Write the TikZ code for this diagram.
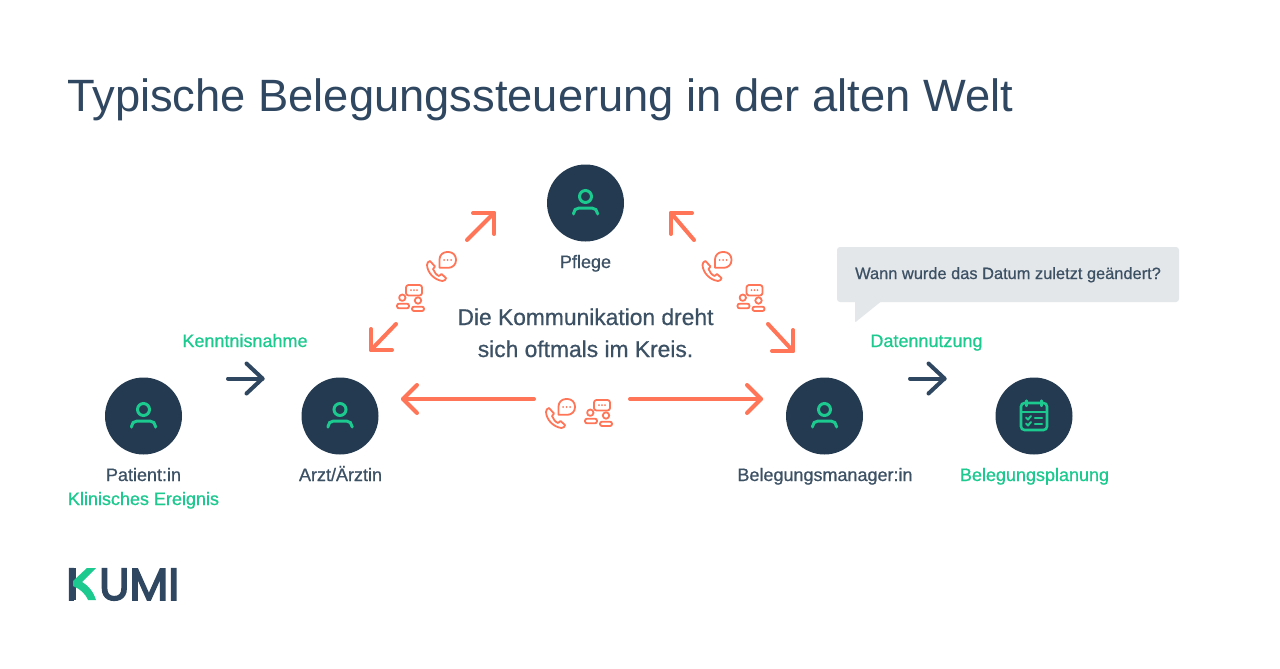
\documentclass[tikz,border=0pt]{standalone}
\usepackage{fontspec}
\setmainfont[FakeBold=0.7]{Liberation Sans}
\newfontfamily\titlefont{Liberation Sans}
\newfontfamily\logofont[FakeBold=3.5]{Poppins}
\usetikzlibrary{arrows.meta}
\definecolor{navy}{HTML}{233A50}
\definecolor{titlecol}{HTML}{2F4760}
\definecolor{bodycol}{HTML}{3D5165}
\definecolor{mint}{HTML}{1CC98F}
\definecolor{coral}{HTML}{FF7557}
\definecolor{calloutfill}{HTML}{E4E7EA}
\tikzset{
  roundnode/.style={circle,fill=navy,draw=none,minimum size=77pt,inner sep=0pt},
  lbl/.style={font=\fontsize{18}{20}\selectfont,text=bodycol,inner sep=0pt,anchor=base},
  grn/.style={font=\fontsize{18}{20}\selectfont,text=mint,inner sep=0pt,anchor=base},
  coralstroke/.style={draw=coral,line width=4pt,line cap=round,line join=round},
  navystroke/.style={draw=titlecol,line width=4pt,line cap=round,line join=round},
  iconline/.style={draw=coral,line width=1.8pt,line join=round,line cap=round},
  personpic/.pic={
    \draw[mint,line width=3pt] (0,-6.5) circle (6pt);
    \draw[mint,line width=3pt,line cap=round,rounded corners=5.5pt] (-12,11) -- (-12,5) -- (12,5) -- (12,11);
  },
  phonepic/.pic={
    \draw[iconline] (-6.5,-10) .. controls (-8,-10) and (-9.5,-8) .. (-9.5,-6)
      .. controls (-9,2) and (-2,9) .. (6,10)
      .. controls (8,10) and (9.5,8.5) .. (9.5,7) -- (5,3) -- (2.5,5)
      .. controls (0,4) and (-2.5,1) .. (-3.5,-2) -- (-1.5,-4.5) -- cycle;
    \draw[iconline,fill=white] (3,-3.2) [rounded corners=7.5pt] -- (3,-19) -- (19.5,-19) -- (19.5,-3.2) [sharp corners] -- cycle;
    \fill[coral] (7.7,-11) circle (1pt) (11.2,-11) circle (1pt) (14.7,-11) circle (1pt);
  },
  peoplepic/.pic={
    \draw[iconline,rounded corners=2.5pt] (-4.5,-13) rectangle (11.5,-2.5);
    \fill[coral] (0.5,-7.8) circle (1pt) (3.5,-7.8) circle (1pt) (6.5,-7.8) circle (1pt);
    \draw[iconline] (-8.2,-.3) circle (3.2pt) (7.5,2.5) circle (3.2pt);
    \draw[iconline,rounded corners=2pt] (-13.5,5.7) rectangle (-1.5,10.3);
    \draw[iconline,rounded corners=2pt] (1.5,8.7) rectangle (13.5,13);
  },
  calendarpic/.pic={
    \draw[mint,line width=2.6pt,rounded corners=3.5pt] (-13,-13) rectangle (13,14);
    \draw[mint,line width=2.4pt] (-13,-4) -- (13,-4);
    \draw[mint,line width=2.2pt,line cap=round] (-7.5,-15.5) -- (-7.5,-10) (7.5,-15.5) -- (7.5,-10);
    \draw[mint,line width=2pt,line cap=round,line join=round] (-8,1.5) -- (-6,3.5) -- (-3,0) (-8,7.5) -- (-6,9.5) -- (-3,6);
    \draw[mint,line width=2.6pt,line cap=round] (1,2) -- (8,2) (1,8) -- (8,8);
  }
}
\begin{document}
\begin{tikzpicture}[x=1pt,y=-1pt]
\useasboundingbox[fill=white] (0,0) rectangle (1280,669);

% title
\node[inner sep=0pt,anchor=base west,text=titlecol,font=\titlefont\fontsize{45.3}{50}\selectfont] (title) at (67,111) {Typische Belegungssteuerung in der alten Welt};

% round nodes
\node[roundnode] (patient) at (143.5,416) {};
\node[roundnode] (arzt) at (340,416) {};
\node[roundnode] (pflege) at (585.5,203) {};
\node[roundnode] (manager) at (824.5,416) {};
\node[roundnode] (plan) at (1034,416) {};
\pic at (patient.center) {personpic};
\pic at (arzt.center) {personpic};
\pic at (pflege.center) {personpic};
\pic at (manager.center) {personpic};
\pic at (plan.center) {calendarpic};

% labels
\node[lbl] (lpflege) at (585.5,268) {Pflege};
\node[lbl] (lpatient) at (143.5,481) {Patient:in};
\node[grn] (lklin) at (143.5,505) {Klinisches Ereignis};
\node[lbl] (larzt) at (340.5,481) {Arzt/Ärztin};
\node[lbl] (lman) at (825,481) {Belegungsmanager:in};
\node[grn] (lplan) at (1034.5,481) {Belegungsplanung};
\node[grn] (lkennt) at (245,347) {Kenntnisnahme};
\node[grn] (ldaten) at (926.5,347) {Datennutzung};
\node[lbl,font=\fontsize{22.8}{24}\selectfont] (mid1) at (585.5,325) {Die Kommunikation dreht};
\node[lbl,font=\fontsize{22.8}{24}\selectfont] (mid2) at (585.5,357) {sich oftmals im Kreis.};

% callout
\fill[calloutfill,rounded corners=3pt] (837,247) rectangle (1179,302);
\fill[calloutfill,rounded corners=1pt] (855,300) -- (855,322.5) -- (883,300) -- cycle;
\node[lbl,font=\fontsize{16.4}{18}\selectfont] (ask) at (1008,279) {Wann wurde das Datum zuletzt geändert?};

% navy arrows
\coordinate (a1s) at (228,378.5); \coordinate (a1e) at (262.5,378.5);
\coordinate (a2s) at (910,378.5); \coordinate (a2e) at (944.5,378.5);
\foreach \s/\e in {a1s/a1e,a2s/a2e}{
  \draw[navystroke] (\s) -- (\e);
  \draw[navystroke] (\e) ++(-16,-15) -- (\e) -- ++(-16,15);
}

% coral arrows
\coordinate (h1s) at (534,399); \coordinate (h1e) at (403,399);
\coordinate (h2s) at (630,399); \coordinate (h2e) at (761,399);
\coordinate (d1s) at (467,240); \coordinate (d1e) at (494,213);
\coordinate (d2s) at (396,324); \coordinate (d2e) at (371,350);
\coordinate (d3s) at (694,240); \coordinate (d3e) at (671,213);
\coordinate (d4s) at (768,324); \coordinate (d4e) at (793,351);
\foreach \s/\e/\ax/\ay/\bx/\by in {
  h1s/h1e/14/-14/14/14,
  h2s/h2e/-14/-14/-14/14,
  d1s/d1e/-21/0/0/21,
  d2s/d2e/0/-21/21/0,
  d3s/d3e/21/0/0/21,
  d4s/d4e/0/-21/-21/0}{
  \draw[coralstroke] (\s) -- (\e);
  \draw[coralstroke] (\e) ++(\ax,\ay) -- (\e) -- ++(\bx,\by);
}

% icons
\pic at (436.5,271) {phonepic};
\pic at (712,271) {phonepic};
\pic at (555.5,418) {phonepic};
\pic at (410.5,298) {peoplepic};
\pic at (751,298) {peoplepic};
\pic at (598.5,413) {peoplepic};

% logo
\node[inner sep=0pt,anchor=base west,text=titlecol,font=\logofont\fontsize{45}{50}\selectfont] (logo) at (66,600) {K\kern6ptUMI};
\fill[white] (74,566) rectangle (100.5,602);
\fill[titlecol] (69,568) rectangle (76,600);
\fill[mint] (87,568) -- (96,568) -- (82,582) .. controls (89,586) and (93.5,592) .. (96,600) -- (88,600) .. controls (85,593) and (80,589) .. (73,586) -- (73,581) -- cycle;
\end{tikzpicture}
\end{document}
